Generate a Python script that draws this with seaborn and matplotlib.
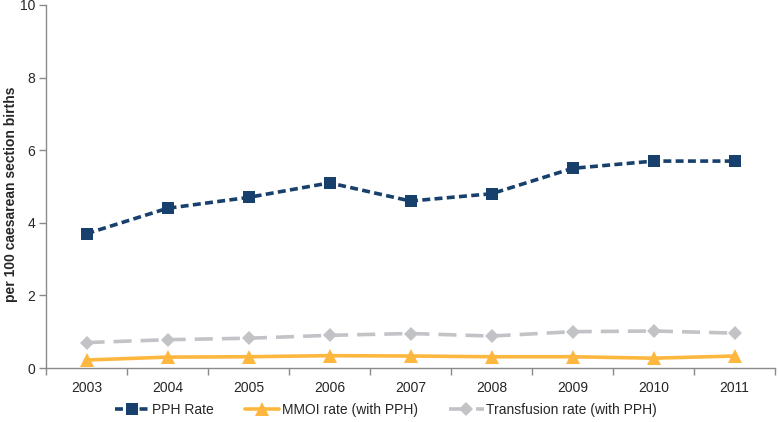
import numpy as np
import pandas as pd
import matplotlib.pyplot as plt
import seaborn as sns

# data
years = ["2003", "2004", "2005", "2006", "2007", "2008", "2009", "2010", "2011"]
pph_rate = [3.7, 4.4, 4.7, 5.1, 4.6, 4.8, 5.5, 5.7, 5.7]
mmoi_rate = [0.22, 0.30, 0.31, 0.34, 0.33, 0.31, 0.31, 0.27, 0.33]
transfusion_rate = [0.70, 0.78, 0.82, 0.90, 0.95, 0.88, 1.00, 1.02, 0.96]

sns.set_style("white")
plt.rcParams["font.family"] = ["Liberation Sans", "DejaVu Sans"]

pos = np.arange(len(years))
fig = plt.figure(figsize=(7.78, 4.22), dpi=100)
ax = fig.add_axes([46 / 778, 54 / 422, 729 / 778, 363 / 422])

sns.lineplot(x=pos, y=pph_rate, ax=ax, color="#17406d", lw=2.6, ls=(0, (2.2, 1.2)),
             marker="s", markersize=9, markeredgewidth=0, label="PPH Rate")
sns.lineplot(x=pos, y=mmoi_rate, ax=ax, color="#fdb73e", lw=2.6,
             marker="^", markersize=10, markeredgewidth=0, label="MMOI rate (with PPH)")
sns.lineplot(x=pos, y=transfusion_rate, ax=ax, color="#c2c3c7", lw=2.6, ls=(0, (5, 2.5)),
             marker="D", markersize=7, markeredgewidth=0, label="Transfusion rate (with PPH)")

ax.set_xlim(-0.5, len(years) - 0.5)
ax.set_ylim(0, 10)
ax.set_yticks([0, 2, 4, 6, 8, 10])
ax.set_xticks(pos)
ax.set_xticklabels(years)
ax.set_xticks(np.arange(-0.5, len(years)), minor=True)
ax.tick_params(axis="x", which="major", length=0, pad=9, labelsize=10)
ax.tick_params(axis="x", which="minor", length=5, width=1, color="#8a8a8a", direction="out")
ax.tick_params(axis="y", length=5, width=1, color="#8a8a8a", direction="out", labelsize=10, pad=3)
ax.yaxis.set_ticks_position("left")
ax.xaxis.set_ticks_position("bottom")

sns.despine(ax=ax)
for s in ["left", "bottom"]:
    ax.spines[s].set_color("#8a8a8a")
    ax.spines[s].set_linewidth(1)

ax.set_ylabel("per 100 caesarean section births", fontsize=10, fontweight="bold")
ax.yaxis.set_label_coords(-0.039, 0.48)
ax.set_xlabel("")

ax.legend(loc="center", bbox_to_anchor=(386 / 778, 12 / 422), bbox_transform=fig.transFigure,
          ncol=3, frameon=False, fontsize=10, handlelength=2.5, columnspacing=2.2,
          handletextpad=0.2, borderaxespad=0, borderpad=0)

fig.savefig("out.png", dpi=100)
